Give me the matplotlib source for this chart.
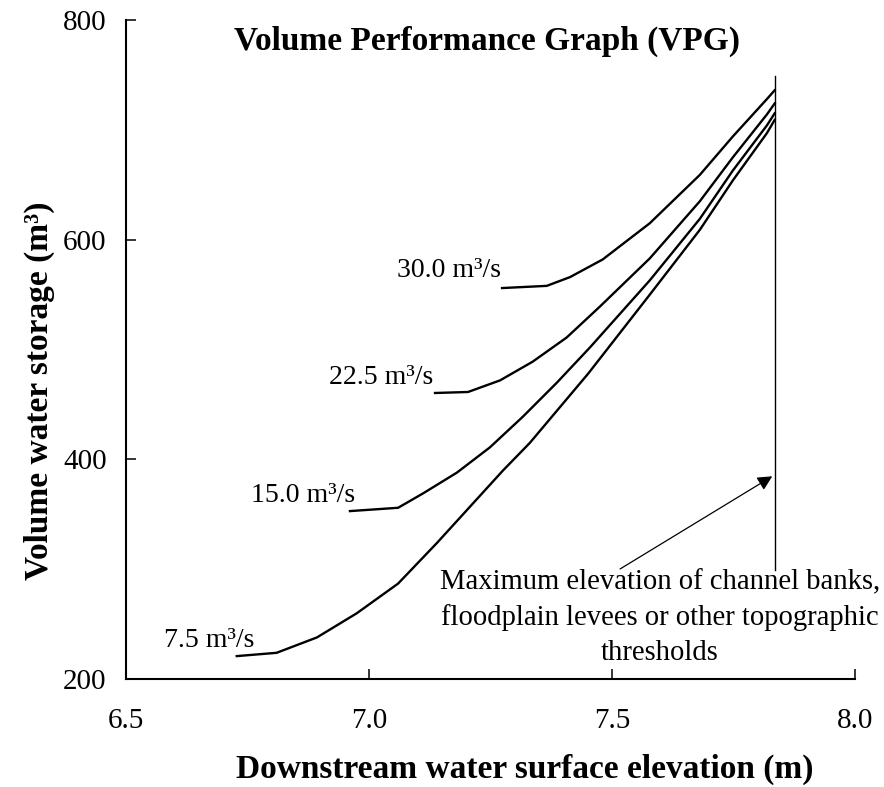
import numpy as np
from matplotlib import pyplot as plt

plt.rcParams['font.family'] = ['Liberation Serif', 'DejaVu Serif']

# flow rate curves: downstream elevation (m) vs volume stored (m3)
q75_x = [6.728, 6.81, 6.893, 6.975, 7.06, 7.14, 7.208, 7.276, 7.331, 7.451, 7.578, 7.681, 7.749, 7.819, 7.835]
q75_y = [221, 224, 238, 260, 287, 324, 357, 390, 415, 478, 550, 609, 654, 697, 709]

q150_x = [6.961, 7.06, 7.111, 7.181, 7.249, 7.317, 7.387, 7.455, 7.578, 7.681, 7.749, 7.819, 7.835]
q150_y = [353, 356, 369, 388, 411, 439, 470, 502, 563, 619, 663, 704, 715]

q225_x = [7.136, 7.204, 7.270, 7.337, 7.407, 7.475, 7.578, 7.681, 7.749, 7.819, 7.835]
q225_y = [460.5, 461.4, 472, 489, 511, 539, 583, 635, 675, 714, 724]

q300_x = [7.274, 7.366, 7.414, 7.481, 7.578, 7.681, 7.749, 7.819, 7.835]
q300_y = [556, 558, 566, 582, 615, 659, 694, 728, 736]

curve_labels = ["7.5 m³/s", "15.0 m³/s", "22.5 m³/s", "30.0 m³/s"]
label_pos = [(6.765, 235), (6.971, 367), (7.132, 475), (7.272, 572)]

bank_elev = 7.835
bank_top = 749
bank_bottom = 299

xticks = [6.5, 7.0, 7.5, 8.0]
yticks = [200, 400, 600, 800]

fig = plt.figure(figsize=(8.84, 7.87), dpi=100)
ax = fig.add_axes([0.1425, 0.137, 0.8245, 0.8376])

for xs, ys in [(q75_x, q75_y), (q150_x, q150_y), (q225_x, q225_y), (q300_x, q300_y)]:
    ax.plot(xs, ys, color='black', lw=1.7, solid_joinstyle='round')

for lab, (lx, ly) in zip(curve_labels, label_pos):
    ax.text(lx, ly, lab, ha='right', va='center', fontsize=20)

# bank threshold line + annotation
ax.plot([bank_elev, bank_elev], [bank_bottom, bank_top], color='black', lw=1.0)
ax.annotate("", xy=(bank_elev, 386), xytext=(7.512, 299),
            arrowprops=dict(arrowstyle='-|>', color='black', lw=0.9, mutation_scale=22))
ax.text(7.599, 256, "Maximum elevation of channel banks,\nfloodplain levees or other topographic\nthresholds",
        ha='center', va='center', fontsize=20.6, linespacing=1.44, multialignment='center')

ax.text(0.495, 0.967, "Volume Performance Graph (VPG)", transform=ax.transAxes,
        ha='center', va='center', fontsize=24, fontweight='bold')

ax.set_xlim(6.5, 8.0)
ax.set_ylim(200, 800)
ax.set_xticks(xticks)
ax.set_xticklabels([f"{t:.1f}" for t in xticks])
ax.set_yticks(yticks)
ax.tick_params(direction='in', length=7, width=1.1, labelsize=21)
ax.tick_params(axis='x', pad=21)
ax.tick_params(axis='y', pad=14)
for s in ['top', 'right']:
    ax.spines[s].set_visible(False)
for s in ['left', 'bottom']:
    ax.spines[s].set_linewidth(1.5)

ax.set_xlabel("Downstream water surface elevation (m)", fontsize=24, fontweight='bold')
ax.set_ylabel("Volume water storage (m³)", fontsize=24, fontweight='bold')
ax.xaxis.set_label_coords(0.547, -0.113)
ax.yaxis.set_label_coords(-0.097, 0.437)

plt.savefig("out.png", dpi=100)
